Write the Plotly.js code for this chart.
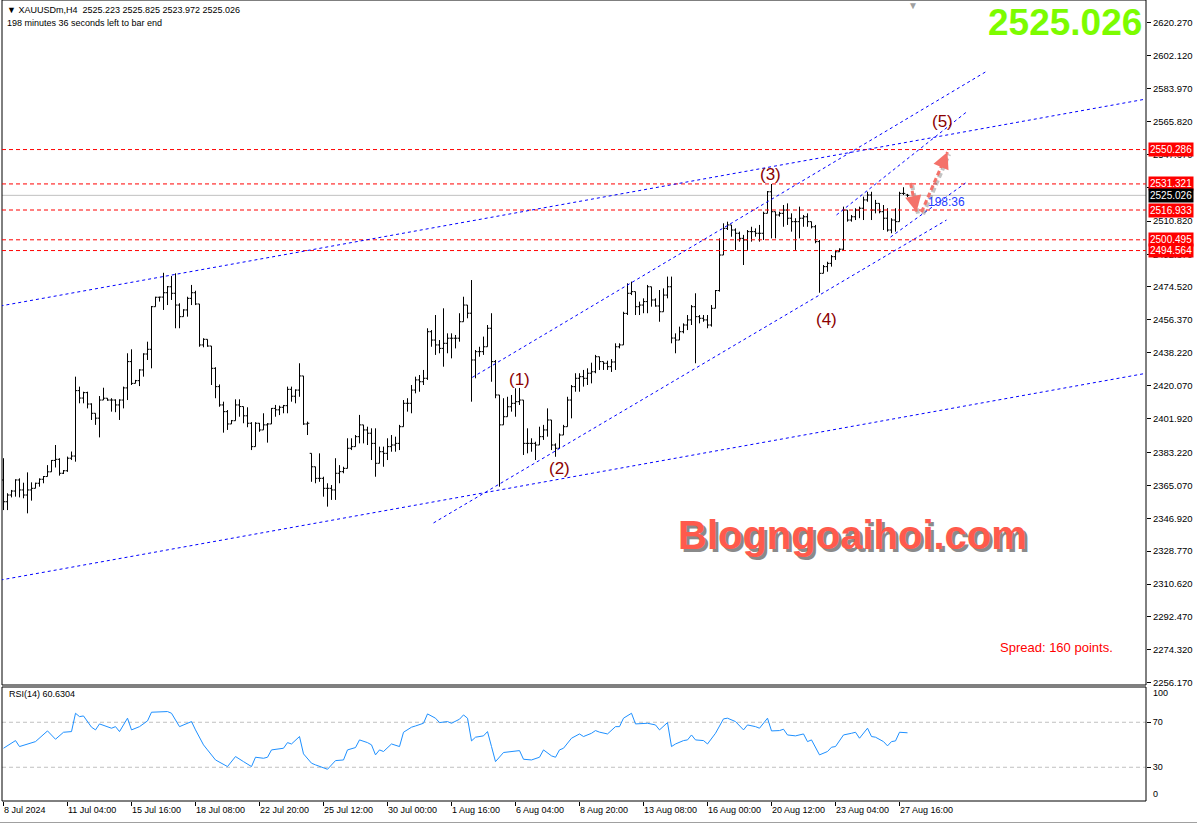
<!DOCTYPE html>
<html><head><meta charset="utf-8">
<script src="https://cdn.plot.ly/plotly-3.0.1.min.js"></script>
<style>html,body{margin:0;padding:0;background:#fff;overflow:hidden}#chart{width:1197px;height:825px}</style>
</head><body><div id="chart"></div>
<script>
// ---- OHLC data (H4 bars, XAUUSDm, 8 Jul 12:00 .. 28 Aug 00:00) ----
const openP = [2368.0,2356.0,2359.7,2361.9,2368.0,2362.5,2359.7,2362.5,2363.4,2366.2,2368.4,2369.9,2372.5,2378.8,2379.4,2371.7,2373.1,2380.0,2381.2,2417.3,
2413.2,2416.2,2409.9,2404.8,2402.1,2412.1,2413.1,2412.1,2412.1,2409.4,2412.1,2418.8,2433.3,2421.3,2422.8,2428.7,2437.5,2440.1,2463.6,2468.8,
2468.9,2471.3,2474.6,2471.0,2464.5,2458.1,2461.8,2468.2,2471.3,2465.1,2442.5,2445.6,2441.9,2429.6,2419.5,2409.4,2405.7,2398.9,2400.7,2409.4,
2408.5,2403.4,2399.3,2386.4,2399.3,2395.6,2398.4,2398.9,2407.5,2406.7,2408.1,2409.0,2418.0,2414.2,2417.6,2425.4,2398.9,2382.7,2375.3,2368.9,
2368.9,2363.4,2363.4,2362.5,2371.7,2372.6,2374.4,2385.5,2386.4,2391.9,2398.4,2395.6,2393.8,2388.2,2377.2,2383.6,2382.7,2386.4,2387.3,2388.2,
2397.4,2410.3,2410.3,2417.6,2423.2,2422.2,2424.1,2449.8,2445.2,2442.5,2440.6,2443.4,2446.2,2446.2,2446.2,2455.3,2464.5,2460.0,2434.2,2438.8,
2438.8,2441.5,2451.7,2433.3,2414.9,2398.4,2402.9,2408.4,2410.3,2411.2,2412.1,2388.2,2388.2,2388.2,2387.3,2391.9,2395.6,2401.1,2387.3,2385.5,
2392.8,2397.4,2412.1,2419.5,2424.1,2425.0,2424.1,2426.9,2427.7,2436.0,2433.3,2432.4,2430.5,2433.1,2441.5,2442.5,2459.9,2471.0,2471.9,2463.6,
2464.5,2466.4,2474.6,2467.3,2464.0,2460.8,2470.0,2474.6,2446.3,2445.2,2449.8,2453.5,2456.3,2463.6,2458.1,2457.2,2456.3,2453.5,2462.7,2472.5,
2492.1,2506.8,2508.7,2505.9,2504.1,2501.3,2500.4,2505.0,2505.0,2504.1,2504.1,2515.1,2527.0,2516.0,2514.2,2515.1,2516.9,2512.4,2510.5,2510.5,
2512.4,2513.2,2510.5,2507.7,2499.5,2482.0,2485.7,2487.5,2491.2,2493.9,2495.3,2516.9,2511.4,2513.2,2516.9,2517.9,2522.5,2525.2,2516.9,2520.6,
2516.0,2512.4,2505.9,2511.4,2510.5,2526.1,2525.223];
const highP = [2380.0,2360.7,2362.5,2368.4,2368.9,2366.5,2372.2,2366.7,2366.5,2368.9,2370.2,2376.2,2379.0,2387.3,2380.0,2373.5,2380.9,2383.7,2425.0,2419.5,
2416.7,2416.7,2410.3,2404.8,2414.3,2418.9,2413.1,2413.1,2412.5,2412.5,2419.5,2437.9,2440.1,2423.2,2429.1,2437.9,2444.3,2464.0,2469.1,2469.1,
2482.3,2475.0,2480.5,2482.0,2465.5,2462.2,2469.1,2475.6,2472.4,2465.1,2446.2,2445.6,2441.9,2430.2,2420.7,2411.2,2406.6,2401.1,2412.5,2412.5,
2408.5,2408.1,2399.9,2399.9,2399.4,2404.8,2399.4,2407.7,2409.4,2409.0,2409.4,2419.5,2419.5,2418.0,2432.4,2425.4,2400.2,2382.7,2375.3,2382.7,
2369.8,2366.2,2365.2,2380.0,2376.2,2375.3,2391.0,2391.0,2392.8,2403.9,2398.4,2397.4,2396.5,2396.5,2386.4,2386.4,2391.0,2392.8,2391.9,2398.4,
2412.1,2413.1,2420.4,2425.0,2425.9,2428.7,2451.7,2450.7,2459.0,2445.2,2462.7,2448.9,2448.9,2448.0,2460.0,2469.1,2464.5,2478.3,2439.7,2441.5,
2447.1,2453.5,2460.0,2434.2,2414.9,2413.1,2413.9,2414.9,2418.6,2418.8,2412.1,2396.5,2391.0,2389.1,2397.4,2398.4,2407.5,2401.1,2388.2,2393.7,
2398.4,2413.9,2420.4,2426.9,2426.9,2428.7,2429.6,2432.7,2437.0,2436.0,2433.3,2433.8,2434.7,2443.4,2443.4,2460.8,2476.5,2477.4,2471.9,2466.4,
2468.2,2475.6,2474.6,2468.2,2472.8,2473.7,2480.2,2480.2,2448.9,2452.6,2454.4,2459.0,2464.5,2471.0,2459.0,2459.0,2459.0,2464.5,2472.8,2501.3,
2509.6,2510.5,2508.7,2506.8,2505.0,2503.2,2505.9,2507.7,2506.8,2508.7,2516.0,2527.4,2531.3,2516.0,2516.0,2519.7,2520.6,2515.1,2512.4,2518.8,
2514.2,2515.1,2510.5,2508.7,2500.4,2486.6,2488.4,2492.1,2494.9,2495.8,2518.8,2516.9,2514.2,2517.9,2518.8,2524.3,2527.0,2527.0,2522.5,2520.6,
2519.7,2517.9,2512.4,2517.9,2527.0,2529.5,2525.825];
const lowP = [2351.4,2351.4,2358.4,2358.8,2358.4,2357.9,2349.6,2356.6,2363.4,2364.3,2366.2,2369.9,2372.5,2374.9,2370.4,2371.3,2372.5,2379.0,2378.1,2410.3,
2410.3,2407.5,2401.1,2398.4,2391.5,2412.1,2411.7,2405.7,2405.4,2401.1,2407.5,2412.1,2420.4,2421.3,2419.8,2425.0,2434.2,2429.6,2463.6,2466.4,
2461.8,2464.5,2467.3,2451.7,2451.7,2458.1,2458.1,2464.5,2464.5,2441.5,2441.2,2441.5,2420.4,2413.1,2408.4,2394.1,2395.6,2398.9,2400.7,2402.9,
2399.3,2397.1,2384.5,2386.4,2394.6,2395.6,2388.6,2398.9,2402.9,2403.8,2404.8,2404.8,2411.2,2410.3,2413.9,2398.4,2392.8,2367.0,2366.2,2367.0,
2358.8,2353.3,2357.0,2357.0,2366.2,2371.7,2374.4,2384.5,2386.4,2388.2,2388.2,2387.3,2379.0,2369.8,2377.2,2375.3,2379.0,2383.6,2383.6,2384.5,
2397.4,2405.7,2404.8,2415.8,2416.7,2420.4,2423.2,2441.5,2437.0,2437.9,2430.5,2437.9,2435.1,2440.6,2444.3,2455.3,2457.2,2411.2,2424.1,2436.0,
2437.0,2441.5,2422.2,2413.1,2364.3,2398.4,2402.9,2405.7,2402.9,2409.4,2381.8,2382.7,2383.6,2379.0,2387.3,2390.1,2391.9,2384.5,2380.8,2385.5,
2392.8,2397.4,2402.0,2416.7,2416.7,2419.5,2420.4,2421.3,2426.9,2428.7,2428.7,2428.7,2427.6,2428.7,2440.6,2442.5,2459.0,2470.0,2459.0,2459.0,
2460.0,2460.0,2463.6,2463.6,2455.3,2460.8,2468.2,2443.4,2437.9,2445.2,2448.9,2450.7,2453.5,2432.4,2454.4,2455.3,2451.7,2452.6,2462.7,2471.9,
2492.1,2505.9,2502.2,2494.9,2499.5,2486.6,2494.9,2499.5,2502.2,2499.5,2500.4,2515.1,2501.3,2501.3,2513.3,2507.7,2508.7,2505.0,2494.9,2501.3,
2507.7,2507.7,2506.8,2498.6,2471.3,2482.0,2482.9,2485.7,2489.4,2493.9,2494.9,2510.5,2510.5,2511.4,2512.4,2511.4,2521.5,2511.4,2515.1,2515.1,
2505.9,2505.0,2504.1,2505.0,2510.5,2525.2,2523.972];
const closeP = [2356.0,2359.7,2361.9,2368.0,2362.5,2359.7,2362.5,2363.4,2366.2,2368.4,2369.9,2372.5,2378.8,2379.4,2371.7,2373.1,2380.0,2381.2,2417.3,2413.2,
2416.2,2409.9,2404.8,2402.1,2412.1,2413.1,2412.1,2412.1,2409.4,2412.1,2418.8,2433.3,2421.3,2422.8,2428.7,2437.5,2440.1,2463.6,2468.8,2468.9,
2471.3,2474.6,2471.0,2464.5,2458.1,2461.8,2468.2,2471.3,2465.1,2442.5,2445.6,2441.9,2429.6,2419.5,2409.4,2405.7,2398.9,2400.7,2409.4,2408.5,
2403.4,2399.3,2386.4,2399.3,2395.6,2398.4,2398.9,2407.5,2406.7,2408.1,2409.0,2418.0,2414.2,2417.6,2425.4,2398.9,2399.3,2375.3,2368.9,2368.9,
2363.4,2363.4,2362.5,2371.7,2372.6,2374.4,2385.5,2386.4,2391.9,2398.4,2395.6,2393.8,2388.2,2377.2,2383.6,2382.7,2386.4,2387.3,2388.2,2397.4,
2410.3,2410.3,2417.6,2423.2,2422.2,2424.1,2449.8,2445.2,2442.5,2440.6,2443.4,2446.2,2446.2,2446.2,2455.3,2464.5,2460.0,2434.2,2438.8,2438.8,
2441.5,2451.7,2433.3,2414.9,2398.4,2402.9,2408.4,2410.3,2411.2,2412.1,2388.2,2388.2,2388.2,2387.3,2391.9,2395.6,2401.1,2387.3,2385.5,2392.8,
2397.4,2412.1,2419.5,2424.1,2425.0,2424.1,2426.9,2427.7,2436.0,2433.3,2432.4,2430.5,2433.1,2441.5,2442.5,2459.9,2471.0,2471.9,2463.6,2464.5,
2466.4,2474.6,2467.3,2464.0,2460.8,2470.0,2474.6,2446.3,2445.2,2449.8,2453.5,2456.3,2463.6,2458.1,2457.2,2456.3,2453.5,2462.7,2472.5,2492.1,
2506.8,2508.7,2505.9,2504.1,2501.3,2500.4,2505.0,2505.0,2504.1,2504.1,2515.1,2527.0,2516.0,2514.2,2515.1,2516.9,2512.4,2510.5,2510.5,2512.4,
2513.2,2510.5,2507.7,2499.5,2482.0,2485.7,2487.5,2491.2,2493.9,2495.3,2516.9,2511.4,2513.2,2516.9,2517.9,2522.5,2525.2,2516.9,2520.6,2516.0,
2512.4,2505.9,2511.4,2510.5,2526.1,2526.1,2525.026];

// ---- time axis labels (bar index -> label) ----
const tickIdx = [0,16,32,48,64,80,96,112,128,144,160,176,192,208,224];
const tickLabels = ["8 Jul 2024","11 Jul 04:00","15 Jul 16:00","18 Jul 08:00","22 Jul 20:00","25 Jul 12:00","30 Jul 00:00","1 Aug 16:00","6 Aug 04:00","8 Aug 20:00","13 Aug 08:00","16 Aug 00:00","20 Aug 12:00","23 Aug 04:00","27 Aug 16:00"];

// ---- RSI(14) ----
const rsiIdx = [0,3,4,8,11,13,15,17,18,19,20,22,23,24,27,28,29,31,32,34,36,37,41,42,44,45,47,48,50,51,53,56,58,60,62,63,65,66,67,70,71,72,74,75,77,78,81,83,85,86,88,89,91,92,93,94,95,97,99,100,102,103,105,106,108,109,111,112,114,115,116,117,118,120,121,122,123,125,127,129,130,132,134,135,137,138,139,140,142,144,145,147,148,149,151,153,154,155,157,158,161,163,164,166,167,168,170,171,172,173,175,176,178,180,181,183,185,186,188,189,191,192,194,195,196,198,200,201,202,204,206,207,208,210,212,213,214,216,217,218,220,221,222,223,224,225,226];
const rsiVal = [46.9,53.7,48.4,52.8,62.3,54.9,61.1,61.7,78.0,75.0,75.6,65.6,63.2,68.5,64.7,66.1,61.7,73.6,63.2,66.1,71.2,78.9,79.5,78.0,66.1,67.6,70.6,63.2,49.9,45.4,36.5,30.6,39.5,35.0,30.6,38.9,38.0,38.9,45.4,46.9,51.9,50.7,57.3,41.9,33.6,32.1,28.2,35.9,36.5,45.4,47.5,54.3,51.9,49.9,41.0,45.4,44.0,50.7,48.4,61.1,65.6,66.7,69.1,77.4,73.6,69.7,70.6,69.1,72.7,76.5,73.6,53.4,56.7,57.9,61.7,48.4,35.0,43.1,44.0,44.8,37.1,36.5,38.9,45.4,40.1,38.9,45.4,46.9,55.8,59.6,57.3,60.2,62.6,61.2,59.6,66.1,66.1,73.6,78.0,68.5,69.1,67.6,63.2,69.7,48.4,50.7,53.7,54.3,58.7,54.3,53.7,50.7,60.2,73.0,73.6,70.6,63.2,67.6,66.1,64.7,73.6,62.3,62.6,63.8,58.7,57.9,59.6,52.8,54.3,41.0,44.0,47.8,48.4,58.7,60.2,61.1,55.8,64.7,57.3,56.7,52.8,49.0,52.8,53.4,61.1,60.9,60.6304];

// ---- price scale labels ----
const priceTicks = [2620.270,2602.120,2583.970,2565.820,2547.670,2529.520,2510.820,2492.370,2474.520,2456.370,2438.220,2420.070,2401.920,2383.220,2365.070,2346.920,2328.770,2310.620,2292.470,2274.320,2256.170];
const rsiTicks = [30,70];

// ---- horizontal levels ----
const levelPrices = [2550.286,2531.321,2516.933,2500.495,2494.564];
const lastPrice = 2525.026;
const barOpen = 2525.223, barHigh = 2525.825, barLow = 2523.972, barClose = 2525.026;

// ---- trend lines (bar index, price) ----
const trendX0 = [-0.75,-0.75,107.5,117.2,208.25,221.75];
const trendY0 = [2464.0,2312.8,2344.3,2424.6,2514.2,2502.0];
const trendX1 = [285.75,285.75,235.75,245.5,240.75,240.5];
const trendY1 = [2578.2,2426.9,2511.4,2593.1,2571.0,2531.8];

// ---- wave labels ----
const waveText = ["(1)","(2)","(3)","(4)","(5)"];
const waveIdx = [129,139,191.75,205.75,234.75];
const wavePrice = [2423.2,2374.6,2536.8,2456.8,2565.5];

// ---- projection arrows (bar index, price) ----
const arrowFromIdx = [226.75,229.5], arrowFromPrice = [2531.8,2515.8];
const arrowToIdx = [228.25,236], arrowToPrice = [2515.8,2548.9];

const fmt3 = v => v.toFixed(3);
const idx = openP.map((_, i) => i);

const FONT = "Liberation Sans, Arial, sans-serif";
const W = 1197, H = 825, ML = 2, MR = 51, MT = 0, MB = 24;
const plotW = W - ML - MR, plotH = H - MT - MB;
const px = x => (x - ML) / plotW;           // page x -> paper
const py = y => (plotH - (y - MT)) / plotH; // page y -> paper

const traces = [
  {type:'ohlc', x: idx, open: openP, high: highP, low: lowP, close: closeP,
   xaxis:'x', yaxis:'y', tickwidth:0.45,
   increasing:{line:{color:'#000000', width:1}}, decreasing:{line:{color:'#000000', width:1}},
   hoverinfo:'skip'},
  {type:'scatter', mode:'lines', x: rsiIdx, y: rsiVal, xaxis:'x', yaxis:'y2',
   line:{color:'#1e90ff', width:1}, hoverinfo:'skip'}
];

const shapes = [];
// frames
shapes.push({type:'rect', xref:'paper', yref:'paper', x0:0, x1:1, y0:py(685), y1:1, line:{color:'#000', width:1}, fillcolor:'rgba(0,0,0,0)', layer:'above'});
shapes.push({type:'rect', xref:'paper', yref:'paper', x0:0, x1:1, y0:0, y1:py(687), line:{color:'#000', width:1}, fillcolor:'rgba(0,0,0,0)', layer:'above'});
shapes.push({type:'line', xref:'paper', yref:'paper', x0:px(0), x1:px(1197), y0:py(822.5), y1:py(822.5), line:{color:'#a0a0a0', width:1}});
// RSI levels
[30,70].forEach(v => shapes.push({type:'line', xref:'paper', yref:'y2', x0:0, x1:1, y0:v, y1:v, line:{color:'#c0c0c0', width:1, dash:'4px,3px'}, layer:'below'}));
// current price line
shapes.push({type:'line', xref:'paper', yref:'y', x0:0, x1:1, y0:lastPrice, y1:lastPrice, line:{color:'#c0c0c0', width:1}, layer:'below'});
// red levels
levelPrices.forEach(v => shapes.push({type:'line', xref:'paper', yref:'y', x0:0, x1:1, y0:v, y1:v, line:{color:'#ff0000', width:1, dash:'4px,3px'}}));
// trend lines
trendX0.forEach((x0, k) => shapes.push({type:'line', xref:'x', yref:'y', x0:x0, y0:trendY0[k], x1:trendX1[k], y1:trendY1[k], line:{color:'#0000ff', width:1, dash:'3px,3px'}}));
// arrows shafts (shadow + body)
arrowFromIdx.forEach((x0, k) => {
  shapes.push({type:'line', xref:'x', yref:'y', x0:x0+0.4, y0:arrowFromPrice[k]-1.2, x1:arrowToIdx[k]+0.4, y1:arrowToPrice[k]-1.2, line:{color:'rgba(120,120,120,0.45)', width:4, dash:'5px,3px'}});
  shapes.push({type:'line', xref:'x', yref:'y', x0:x0, y0:arrowFromPrice[k], x1:arrowToIdx[k], y1:arrowToPrice[k], line:{color:'#f4726a', width:3, dash:'5px,3px'}});
});

const ann = [];
ann.push({xref:'paper', yref:'paper', x:px(5), y:1, xanchor:'left', yanchor:'top', yshift:-3, showarrow:false,
  text:'▼ XAUUSDm,H4&nbsp;&nbsp;' + [barOpen,barHigh,barLow,barClose].map(fmt3).join(' '), font:{family:FONT, size:9, color:'#000'}});
ann.push({xref:'paper', yref:'paper', x:px(5), y:1, xanchor:'left', yanchor:'top', yshift:-16, showarrow:false,
  text:'198 minutes 36 seconds left to bar end', font:{family:FONT, size:9, color:'#000'}});
ann.push({xref:'paper', yref:'paper', x:px(913), y:1, xanchor:'center', yanchor:'top', yshift:2, showarrow:false,
  text:'▼', font:{family:FONT, size:10, color:'#a0a0a0'}});
ann.push({xref:'paper', yref:'paper', x:px(1144), y:1, xanchor:'right', yanchor:'top', yshift:0, showarrow:false,
  text:'<b>' + fmt3(lastPrice) + '</b>', font:{family:FONT, size:37, color:'#7cfc00'}});
// watermark
ann.push({xref:'paper', yref:'paper', x:px(855), y:py(538), xanchor:'center', yanchor:'middle', showarrow:false,
  text:'<b>Blogngoaihoi.com</b>', font:{family:FONT, size:40, color:'#8a8a8a'}});
ann.push({xref:'paper', yref:'paper', x:px(852), y:py(535), xanchor:'center', yanchor:'middle', showarrow:false,
  text:'<b>Blogngoaihoi.com</b>', font:{family:FONT, size:40, color:'#ff5a4c'}});
ann.push({xref:'paper', yref:'paper', x:px(1115), y:py(647), xanchor:'right', yanchor:'middle', showarrow:false,
  text:'Spread: 160 points.', font:{family:FONT, size:13, color:'#ff0000'}});
ann.push({xref:'paper', yref:'paper', x:px(7), y:py(694), xanchor:'left', yanchor:'middle', showarrow:false,
  text:'RSI(14) ' + rsiVal[rsiVal.length-1].toFixed(4), font:{family:FONT, size:9, color:'#000'}});
// RSI 100 / 0 labels
ann.push({xref:'paper', yref:'paper', x:1, y:py(693), xanchor:'left', yanchor:'middle', xshift:5, showarrow:false, text:'100', font:{family:FONT, size:9, color:'#000'}});
ann.push({xref:'paper', yref:'paper', x:1, y:py(794), xanchor:'left', yanchor:'middle', xshift:5, showarrow:false, text:'0', font:{family:FONT, size:9, color:'#000'}});
// wave labels
waveText.forEach((t, k) => ann.push({xref:'x', yref:'y', x:waveIdx[k], y:wavePrice[k], showarrow:false, text:t, font:{family:FONT, size:17, color:'#8b0000'}}));
// timer text
ann.push({xref:'x', yref:'y', x:230.5, y:2521.2, xanchor:'left', showarrow:false, text:'198:36', font:{family:FONT, size:12, color:'#1e3cff'}});
// arrow heads
arrowFromIdx.forEach((x0, k) => ann.push({xref:'x', yref:'y', x:arrowToIdx[k], y:arrowToPrice[k], axref:'x', ayref:'y',
  ax: arrowToIdx[k] - (arrowToIdx[k]-x0)*0.25, ay: arrowToPrice[k] - (arrowToPrice[k]-arrowFromPrice[k])*0.25,
  showarrow:true, arrowhead:2, arrowsize:1.3, arrowwidth:2.5, arrowcolor:'#f4726a', text:''}));
// price labels on the scale
levelPrices.forEach(v => ann.push({xref:'paper', yref:'y', x:1, y:v, xanchor:'left', yanchor:'middle', xshift:2, showarrow:false,
  text:fmt3(v), bgcolor:'#ff0000', borderpad:1, font:{family:FONT, size:10, color:'#ffffff'}}));
ann.push({xref:'paper', yref:'y', x:1, y:lastPrice, xanchor:'left', yanchor:'middle', xshift:2, showarrow:false,
  text:fmt3(lastPrice), bgcolor:'#000000', borderpad:1, font:{family:FONT, size:10, color:'#ffffff'}});

const layout = {
  width: W, height: H, margin:{l:ML, r:MR, t:MT, b:MB, pad:0},
  paper_bgcolor:'#ffffff', plot_bgcolor:'#ffffff', showlegend:false, dragmode:false,
  xaxis:{domain:[0,1], anchor:'y2', range:[-0.375, 285.625], tickmode:'array', tickvals:tickIdx, ticktext:tickLabels,
    ticks:'outside', ticklen:4, tickcolor:'#000', tickangle:0, ticklabelposition:'outside right',
    tickfont:{family:FONT, size:9, color:'#000'}, showgrid:false, zeroline:false, showline:false, rangeslider:{visible:false}, fixedrange:true},
  yaxis:{domain:[py(685),1], anchor:'x', side:'right', range:[2254.90, 2632.79], tickmode:'array', tickvals:priceTicks, ticktext:priceTicks.map(fmt3),
    ticks:'outside', ticklen:4, tickcolor:'#000', tickfont:{family:FONT, size:9.5, color:'#000'}, showgrid:false, zeroline:false, showline:false, fixedrange:true},
  yaxis2:{domain:[0,py(687)], anchor:'x', side:'right', range:[0, 101.33], tickmode:'array', tickvals:rsiTicks, ticktext:rsiTicks.map(String),
    ticks:'outside', ticklen:4, tickcolor:'#000', tickfont:{family:FONT, size:9, color:'#000'}, showgrid:false, zeroline:false, showline:false, fixedrange:true},
  shapes: shapes, annotations: ann
};
Plotly.newPlot('chart', traces, layout, {staticPlot:true, displayModeBar:false});
</script></body></html>
